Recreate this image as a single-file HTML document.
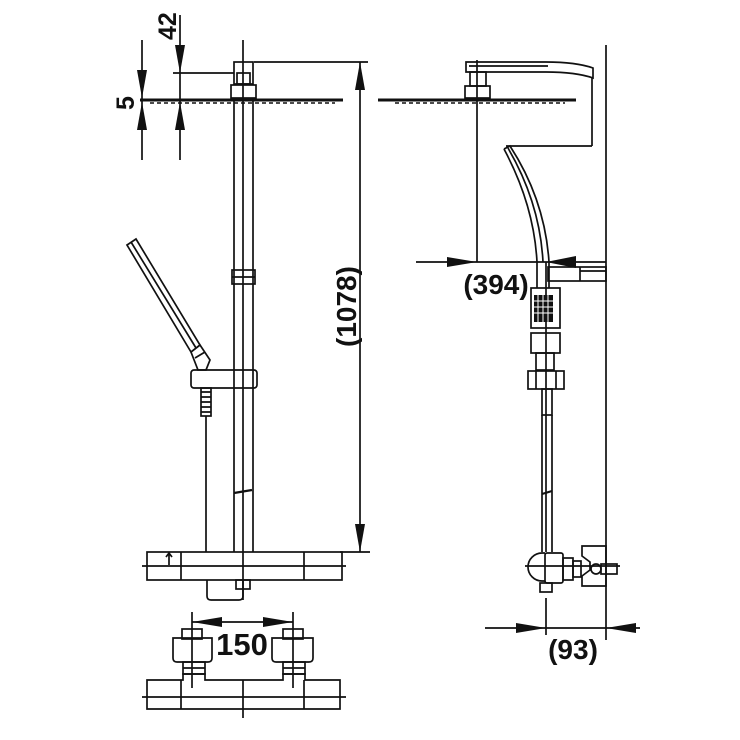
<!DOCTYPE html>
<html><head><meta charset="utf-8"><style>
html,body{margin:0;padding:0;background:#fff;}
svg{display:block;}
text{font-family:"Liberation Sans",sans-serif;font-weight:bold;fill:#111;}
</style></head><body>
<svg width="740" height="740" viewBox="0 0 740 740" xmlns="http://www.w3.org/2000/svg">
<g stroke="#111" fill="none" stroke-width="1.7">
<line x1="234" y1="98" x2="234" y2="552"/>
<line x1="253" y1="98" x2="253" y2="552"/>
<line x1="243" y1="40" x2="243" y2="600"/>
<rect x="234" y="62" width="19" height="22"/>
<rect x="237" y="73" width="13" height="11"/>
<rect x="231" y="85" width="25" height="13"/>
<rect x="232" y="270" width="23" height="14"/>
<line x1="232" y1="277" x2="255" y2="277"/>
<path d="M234 493 L252 490" stroke-width="2.2"/>
<line x1="140" y1="100" x2="343" y2="100" stroke-width="3"/>
<line x1="150" y1="103" x2="335" y2="103" stroke-width="1.5" stroke-dasharray="4 3"/>
<line x1="180" y1="15" x2="180" y2="160"/>
<line x1="173" y1="73" x2="234" y2="73"/>
<line x1="142" y1="40" x2="142" y2="160"/>
<line x1="254" y1="62" x2="368" y2="62"/>
<line x1="360" y1="62" x2="360" y2="552"/>
<line x1="340" y1="552" x2="370" y2="552"/>
</g>
<g fill="#111">
<polygon points="175,45 185,45 180,73"/>
<polygon points="175,130 185,130 180,102"/>
<polygon points="137,70 147,70 142,98"/>
<polygon points="137,130 147,130 142,102"/>
<polygon points="355,90 365,90 360,62"/>
<polygon points="355,524 365,524 360,552"/>
</g>
<text x="0" y="0" font-size="25" transform="translate(176,40) rotate(-90)">42</text>
<text x="0" y="0" font-size="25" transform="translate(134,110) rotate(-90)">5</text>
<text x="0" y="0" font-size="28" transform="translate(356,347) rotate(-90)">(1078)</text>
<g stroke="#111" fill="none" stroke-width="1.7">
<polygon points="127,245 136,239 200,345 191,352"/>
<line x1="131" y1="242" x2="196" y2="348"/>
<path d="M191 352 L200 345 L210 360 L206 370 L198 370 Z"/>
<line x1="195" y1="358" x2="205" y2="352"/>
<rect x="191" y="370" width="66" height="18" rx="3"/>
<rect x="201" y="388" width="10" height="28"/>
<path d="M201 392 h10 M201 397 h10 M201 402 h10 M201 407 h10 M201 412 h10"/>
<line x1="206" y1="416" x2="206" y2="552"/>
<rect x="147" y="552" width="195" height="28"/>
<line x1="142" y1="566" x2="346" y2="566"/>
<line x1="181" y1="552" x2="181" y2="580"/>
<line x1="304" y1="552" x2="304" y2="580"/>
<path d="M169 565 v-12 M166 557 l3 -4 l3 4"/>
<path d="M207 580 v16 q0 4 4 4 h28 q4 0 4 -4 v-16"/>
<rect x="236" y="580" width="14" height="9"/>
<line x1="192" y1="612" x2="192" y2="688"/>
<line x1="293" y1="612" x2="293" y2="688"/>
<line x1="192" y1="622" x2="293" y2="622"/>
<rect x="182" y="629" width="20" height="10"/>
<rect x="283" y="629" width="20" height="10"/>
<path d="M173 638 h39 v20 q0 4 -4 4 h-31 q-4 0 -4 -4 z"/>
<path d="M272 638 h41 v20 q0 4 -4 4 h-33 q-4 0 -4 -4 z"/>
<rect x="183" y="662" width="22" height="12"/>
<rect x="283" y="662" width="22" height="12"/>
<line x1="183" y1="668" x2="205" y2="668"/>
<line x1="283" y1="668" x2="305" y2="668"/>
<path d="M147 680 h36 v-6 h22 v6 h78 v-6 h22 v6 h35 v29 h-193 z"/>
<line x1="142" y1="697" x2="346" y2="697"/>
<line x1="181" y1="680" x2="181" y2="709"/>
<line x1="304" y1="680" x2="304" y2="709"/>
<line x1="243" y1="680" x2="243" y2="718"/>
</g>
<g fill="#111">
<polygon points="192,622 222,617 222,627"/>
<polygon points="293,622 263,617 263,627"/>
</g>
<text x="242" y="655" font-size="31" text-anchor="middle">150</text>
<g stroke="#111" fill="none" stroke-width="1.7">
<line x1="606" y1="45" x2="606" y2="640"/>
<line x1="378" y1="100" x2="576" y2="100" stroke-width="3"/>
<line x1="395" y1="103" x2="565" y2="103" stroke-width="1.5" stroke-dasharray="4 3"/>
<path d="M466 62 h80 q30 0 47 6 v10 q-17 -6 -47 -6 h-80 z"/>
<line x1="469" y1="66" x2="548" y2="66"/>
<line x1="592" y1="78" x2="592" y2="146"/>
<line x1="506" y1="146" x2="592" y2="146"/>
<path d="M504 149 L510 146 Q545 200 549 262"/>
<path d="M504 149 Q534 205 537 262"/>
<path d="M508 148 Q540 203 543 262"/>
<rect x="470" y="72" width="16" height="14"/>
<rect x="465" y="86" width="25" height="12"/>
<line x1="477" y1="60" x2="477" y2="262"/>
<line x1="416" y1="262" x2="606" y2="262"/>
<rect x="548" y="267" width="58" height="14"/>
<line x1="580" y1="271" x2="606" y2="271"/>
<line x1="580" y1="267" x2="580" y2="281"/>
<line x1="537" y1="262" x2="537" y2="288"/>
<line x1="549" y1="262" x2="549" y2="288"/>
<rect x="531" y="288" width="29" height="40"/>
<rect x="531" y="333" width="29" height="20"/>
<rect x="536" y="353" width="18" height="17"/>
<rect x="528" y="371" width="36" height="18"/>
<line x1="536" y1="371" x2="536" y2="389"/>
<line x1="556" y1="371" x2="556" y2="389"/>
<rect x="542" y="389" width="10" height="26"/>
<line x1="542" y1="415" x2="542" y2="552"/>
<line x1="552" y1="415" x2="552" y2="552"/>
<line x1="546" y1="262" x2="546" y2="552"/>
<path d="M542 494 L552 491" stroke-width="2.2"/>
<path d="M545 553 h-3 a14 14 0 0 0 0 28 h3"/>
<rect x="545" y="553" width="18" height="30" rx="2"/>
<rect x="563" y="558" width="10" height="22"/>
<rect x="573" y="561" width="8" height="16"/>
<path d="M582 546 h24 v40 h-24 v-10 l8 -6 v-8 l-8 -6 z"/>
<circle cx="596" cy="569" r="5"/>
<rect x="601" y="564" width="16" height="10"/>
<line x1="525" y1="566" x2="620" y2="566"/>
<rect x="540" y="583" width="12" height="9"/>
<line x1="546" y1="598" x2="546" y2="635"/>
<line x1="485" y1="628" x2="640" y2="628"/>
</g>
<g fill="#111">
<rect x="534" y="295" width="19" height="27"/>
<polygon points="477,262 447,257 447,267"/>
<polygon points="546,262 576,256 576,268"/>
<polygon points="546,628 516,623 516,633"/>
<polygon points="606,628 636,623 636,633"/>
</g>
<g stroke="#fff" stroke-width="1">
<path d="M534 301 h19 M534 307 h19 M534 313 h19 M538 295 v27 M543 295 v27 M548 295 v27"/>
</g>
<text x="496" y="294" font-size="28" text-anchor="middle">(394)</text>
<text x="573" y="659" font-size="28" text-anchor="middle">(93)</text>
</svg>
</body></html>
